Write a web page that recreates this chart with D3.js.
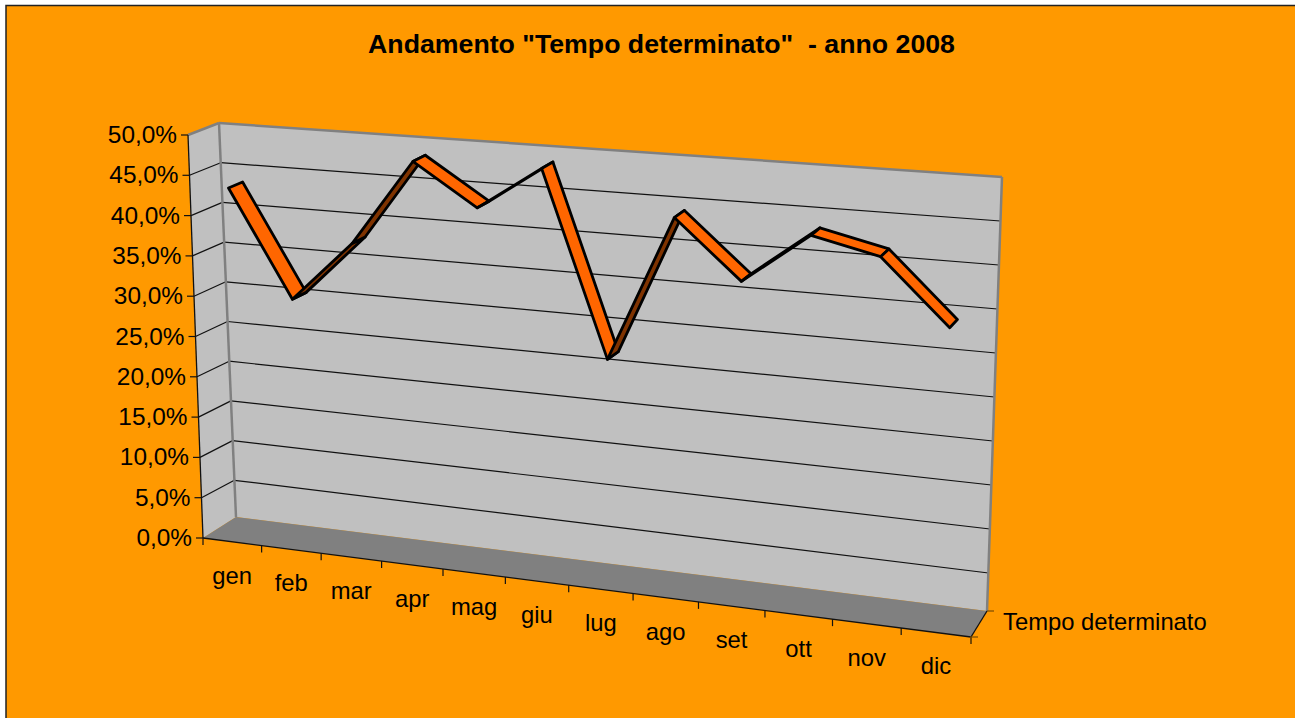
<!DOCTYPE html>
<html><head><meta charset="utf-8">
<script src="https://cdn.jsdelivr.net/npm/d3@7"></script>
<style>html,body{margin:0;padding:0;background:#fff;overflow:hidden}svg{display:block}text{font-family:"Liberation Sans",Arial,sans-serif;fill:#000}</style>
</head><body><div id="c"></div>
<script>
const titleText = 'Andamento "Tempo determinato"  - anno 2008';
const seriesName = 'Tempo determinato';
const categories = ['gen','feb','mar','apr','mag','giu','lug','ago','set','ott','nov','dic'];
const values = [43.3,30.2,37.7,48.3,43.3,48.6,26.6,44.0,37.2,43.2,41.4,34.0];
const valueTicks = [0,5,10,15,20,25,30,35,40,45,50];

const W=1295,H=718;
const svg=d3.select('#c').append('svg').attr('width',W).attr('height',H);
svg.append('rect').attr('x',6).attr('y',5.5).attr('width',W).attr('height',H).attr('fill','#FF9900').attr('stroke','#222').attr('stroke-width',1.5);

// box corners: front/back, left/right, bottom/top
const C={fLB:[203,538],fLT:[188,135],fRB:[971,637],fRT:[986,194],
         bLB:[236,520],bLT:[219,123],bRB:[987,617],bRT:[1002,177]};
const floorL=[236,517],floorR=[987,611];
const persp=1.10;
const xPos=d3.scaleBand().domain(categories).range([0,1]);
const yPos=d3.scaleLinear().domain([0,50]).range([0,1]);
const warp=u=>u/(persp+(1-persp)*u);
const mix=(a,b,t)=>[a[0]+(b[0]-a[0])*t,a[1]+(b[1]-a[1])*t];
function P(u,v,d){
  const w=warp(u);
  const f=mix(mix(C.fLB,C.fRB,w),mix(C.fLT,C.fRT,w),v);
  const b=mix(mix(C.bLB,C.bRB,w),mix(C.bLT,C.bRT,w),v);
  return mix(f,b,d);
}
const line=d3.line();
const poly=(pts,fill,stroke,sw)=>svg.append('path').attr('d',line(pts)+'Z').attr('fill',fill).attr('stroke',stroke||'none').attr('stroke-width',sw||0).attr('stroke-linejoin','round');
const seg=(a,b,stroke,sw)=>svg.append('path').attr('d',line([a,b])).attr('fill','none').attr('stroke',stroke).attr('stroke-width',sw);

// walls
poly([C.fLB,C.fLT,C.bLT,floorL],'#C0C0C0');
poly([floorL,C.bLT,C.bRT,floorR],'#C0C0C0');

// gridlines
valueTicks.filter(t=>t>0&&t<50).forEach(t=>{
  const v=yPos(t);
  seg(P(0,v,0),P(0,v,1),'#111',1.2);
  seg(P(0,v,1),P(1,v,1),'#111',1.2);
});
// gray wall outlines
seg(C.fLT,C.bLT,'#808080',2.5);
seg(C.bLT,C.bRT,'#808080',2.5);
seg(C.bLT,floorL,'#808080',2.5);
seg(C.bRT,floorR,'#808080',2.5);
// floor
poly([C.fLB,floorL,floorR,C.fRB],'#808080');
// black axes
seg(C.fLT,C.fLB,'#111',1.3);
seg(C.fLB,C.fRB,'#111',1.3);
seg(C.fRB,floorR,'#111',1.3);

// value ticks and labels
const fmt=t=>t.toFixed(1).replace('.',',')+'%';
valueTicks.forEach(t=>{
  const p=P(0,yPos(t),0);
  seg([p[0]-7,p[1]],p,'#111',1.2);
  svg.append('text').attr('x',p[0]-11).attr('y',p[1]+8).attr('text-anchor','end').attr('font-size',24.4).text(fmt(t));
});
// category ticks and labels
d3.range(13).forEach(i=>{
  const p=P(i/12,0,0);
  seg(p,[p[0],p[1]+7],'#111',1.2);
});
categories.forEach(c=>{
  const p=P(xPos(c)+xPos.bandwidth()/2,0,0);
  svg.append('text').attr('x',p[0]).attr('y',p[1]+42).attr('text-anchor','middle').attr('font-size',23.8).text(c);
});
// depth axis ticks
seg([C.fRB[0]-1,C.fRB[1]],[C.fRB[0]+7,C.fRB[1]],'#7a4a00',1.2);
seg([C.fRB[0],C.fRB[1]],[C.fRB[0],C.fRB[1]+7],'#7a4a00',1.2);
seg(floorR,[floorR[0]+7,floorR[1]],'#7a4a00',1.2);
svg.append('text').attr('x',1003).attr('y',630).attr('font-size',23.8).text(seriesName);

// ribbon
const d0=0.27,d1=0.73;
const uOf=c=>xPos(c)+xPos.bandwidth()/2;
const front=categories.map((c,i)=>P(uOf(c),yPos(values[i]),d0));
const back=categories.map((c,i)=>P(uOf(c),yPos(values[i]),d1));
for(let i=0;i<categories.length-1;i++){
  const rising=values[i+1]>values[i];
  poly([front[i],front[i+1],back[i+1],back[i]],rising?'#7F3300':'#FF6600','#000',2.8);
}

svg.append('text').attr('x',661.5).attr('y',53).attr('text-anchor','middle').attr('font-size',26.7).attr('font-weight','bold').style('white-space','pre').text(titleText);
</script></body></html>
